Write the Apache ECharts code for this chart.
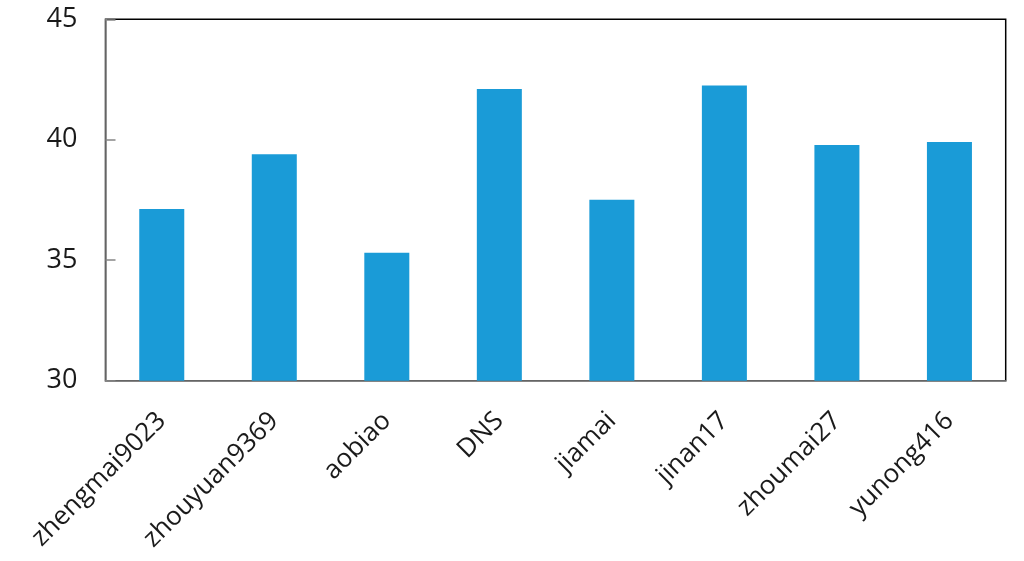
<!DOCTYPE html>
<html><head><meta charset="utf-8">
<script src="https://cdn.jsdelivr.net/npm/echarts@6/dist/echarts.min.js"></script>
<style>html,body{margin:0;padding:0;background:#fff}#c{width:1024px;height:561px}</style>
</head><body><div id="c"></div>
<script>
const categories = ['zhengmai9023','zhouyuan9369','aobiao','DNS','jiamai','jinan17','zhoumai27','yunong416'];
const values = [37.13, 39.40, 35.31, 42.11, 37.51, 42.25, 39.78, 39.91];
const yTicks = [30, 35, 40, 45];

const chart = echarts.init(document.getElementById('c'));
chart.setOption({
  animation: false,
  grid: {left: 105.5, right: 18.3, top: 19.3, bottom: 180.3, show: true, borderColor: '#000', borderWidth: 1.5, backgroundColor: '#fff'},
  xAxis: {
    type: 'category', data: categories,
    axisLine: {lineStyle: {color: '#868686', width: 1.5}},
    axisTick: {show: false},
    axisLabel: {rotate: 45, fontSize: 26, fontFamily: 'Open Sans', color: '#1a1a1a', margin: 36, interval: 0}
  },
  yAxis: {
    type: 'value', min: yTicks[0], max: yTicks[yTicks.length-1], interval: 5,
    axisLine: {show: true, lineStyle: {color: '#868686', width: 1.5}},
    axisTick: {show: true, inside: true, length: 10, lineStyle: {color: '#868686', width: 1.5}},
    splitLine: {show: false},
    axisLabel: {fontSize: 27, fontFamily: 'Open Sans', color: '#1a1a1a', margin: 28}
  },
  series: [{
    type: 'bar', data: values, barWidth: '40%',
    itemStyle: {color: '#1A9BD7'}
  }]
});
</script></body></html>
